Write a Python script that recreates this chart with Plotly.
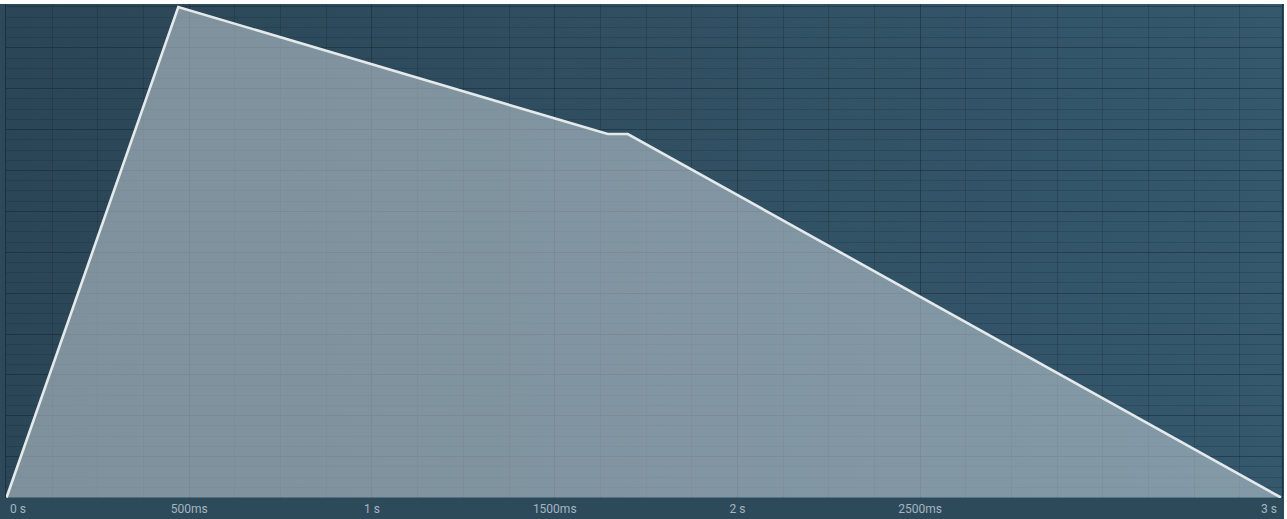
import plotly.graph_objects as go

# envelope breakpoints (seconds, normalised level)
env_time = [0.0, 0.47, 1.645, 1.70, 3.487]
env_level = [0.0, 1.0, 0.741, 0.741, 0.0]

# time axis labels
tick_vals = [0.0, 0.5, 1.0, 1.5, 2.0, 2.5]
tick_text = ["", "500ms", "1 s", "1500ms", "2 s", "2500ms"]
end_labels = ["0 s", "3 s"]

W, H = 1287, 519
ML, MR, MT, MB = 6, 5, 4, 21
plot_w = W - ML - MR
plot_h = H - MT - MB

strip_col = "#2d4a5b"
label_col = "#a6b5c0"

# horizontal background gradient as an svg data uri
grad_svg = (
    "data:image/svg+xml;utf8,"
    "<svg xmlns='http://www.w3.org/2000/svg' width='100' height='100' viewBox='0 0 100 100' preserveAspectRatio='none'>"
    "<defs><linearGradient id='g' x1='0' y1='0' x2='1' y2='0'>"
    "<stop offset='0' stop-color='%232b4656'/>"
    "<stop offset='1' stop-color='%2335586d'/>"
    "</linearGradient></defs>"
    "<rect width='100' height='100' fill='url(%23g)'/></svg>"
)

fig = go.Figure()
fig.add_trace(go.Scatter(
    x=env_time, y=env_level,
    mode="lines",
    line=dict(color="#e4e9ec", width=2.6),
    fill="tozeroy",
    fillcolor="rgba(198,209,216,0.54)",
    hoverinfo="skip",
    showlegend=False,
))

grid_x = "rgba(22,38,48,0.28)"
grid_minor = "rgba(22,38,48,0.22)"
grid_major = "rgba(20,34,44,0.45)"

fig.update_layout(
    width=W, height=H, autosize=False,
    margin=dict(l=ML, r=MR, t=MT, b=MB, pad=0),
    paper_bgcolor=strip_col,
    plot_bgcolor="rgba(0,0,0,0)",
    font=dict(family="Roboto", size=12, color=label_col),
    images=[dict(
        source=grad_svg, xref="paper", yref="paper",
        x=0, y=1, sizex=1, sizey=1, sizing="stretch",
        xanchor="left", yanchor="top", layer="below",
    )],
    xaxis=dict(
        range=[-0.0014, 3.49],
        tickmode="array", tickvals=tick_vals, ticktext=tick_text,
        showgrid=True, gridcolor=grid_x, gridwidth=1,
        minor=dict(dtick=0.125, tick0=0, showgrid=True,
                   gridcolor=grid_x, gridwidth=1),
        zeroline=False, showline=False, ticks="",
        ticklabelstandoff=2,
        tickfont=dict(family="Roboto", size=12, color=label_col),
        fixedrange=True,
    ),
    yaxis=dict(
        range=[-0.001, 1.0061],
        tickmode="linear", tick0=0, dtick=1 / 12,
        showgrid=True, gridcolor=grid_major, gridwidth=1,
        minor=dict(dtick=1 / 48, tick0=0, showgrid=True,
                   gridcolor=grid_minor, gridwidth=1),
        showticklabels=False, zeroline=False,
        showline=True, mirror=True, linecolor="rgba(20,34,44,0.6)", linewidth=1,
        ticks="", fixedrange=True,
    ),
    annotations=[
        dict(text=end_labels[0], xref="paper", yref="paper", x=2 / plot_w, y=0,
             xanchor="left", yanchor="top", yshift=-2, showarrow=False,
             font=dict(family="Roboto", size=12, color=label_col)),
        dict(text=end_labels[1], xref="paper", yref="paper", x=1 - 3 / plot_w, y=0,
             xanchor="right", yanchor="top", yshift=-2, showarrow=False,
             font=dict(family="Roboto", size=12, color=label_col)),
    ],
    shapes=[
        # thin white border at top and right edge of the page
        dict(type="rect", xref="paper", yref="paper", layer="above",
             x0=-0.01, x1=1.01, y0=1, y1=1 + (MT + 1) / plot_h,
             fillcolor="white", line=dict(width=0)),
        dict(type="rect", xref="paper", yref="paper", layer="above",
             x0=1 + 2 / plot_w, x1=1.01, y0=-0.1, y1=1.02,
             fillcolor="white", line=dict(width=0)),
    ],
)

# page has a default body margin; drop it so the figure fills the window
fig.write_html(
    "out.html",
    config={"displayModeBar": False},
    post_script="document.body.style.margin='0';document.body.style.overflow='hidden';",
)
